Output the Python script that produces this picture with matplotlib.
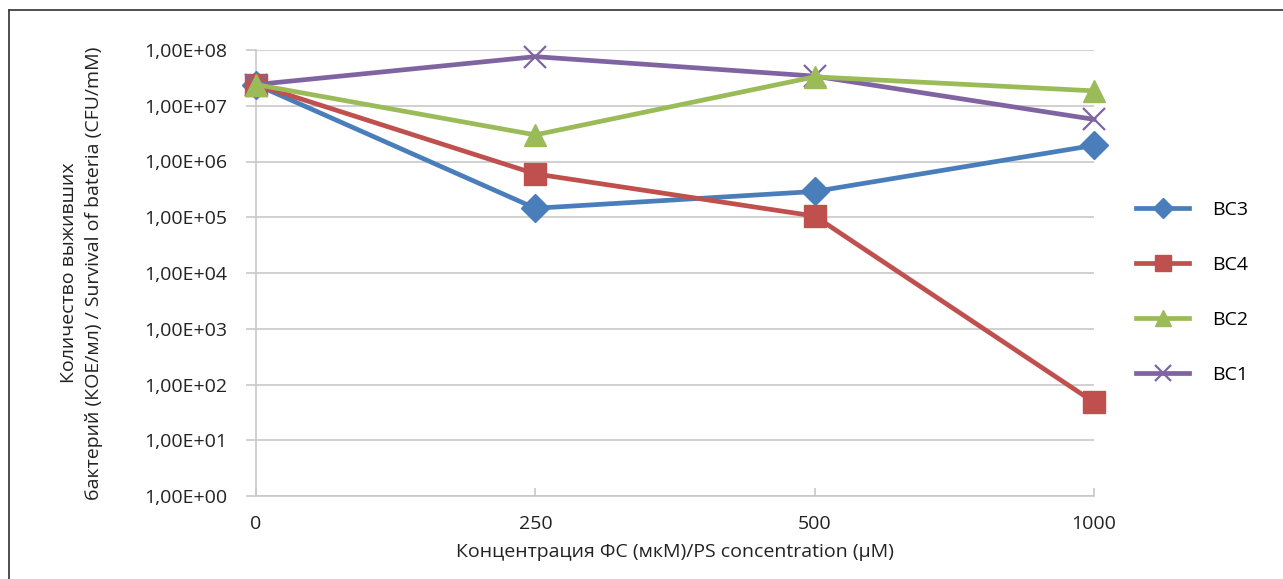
import numpy as np
import matplotlib
matplotlib.use("Agg")
import matplotlib.pyplot as plt
from matplotlib.lines import Line2D
from matplotlib.ticker import FuncFormatter, LogLocator, NullLocator

plt.rcParams['font.family'] = ['Open Sans', 'DejaVu Sans']

# data
concentrations = ["0", "250", "500", "1000"]
bc3 = [2.4e7, 1.45e5, 2.9e5, 1.95e6]
bc4 = [2.4e7, 6.0e5, 1.05e5, 48]
bc2 = [2.4e7, 3.0e6, 3.3e7, 1.85e7]
bc1 = [2.4e7, 7.6e7, 3.4e7, 5.7e6]

blue = "#4A7EBB"
red = "#C0504D"
green = "#9BBB59"
purple = "#8064A2"
grid_c = "#C8C8C8"
txt_c = "#222222"
fs = 14

fig = plt.figure(figsize=(12.83, 5.79), dpi=100)
ax = fig.add_axes([256/1283, 1-496/579, (1094-256)/1283, (496-50)/579])

x = np.arange(len(concentrations))

# draw order so the overlaps look like the original
h3, = ax.plot(x, bc3, color=blue, lw=3.4, marker="D", ms=14, label="BC3", clip_on=False, zorder=3)
h4, = ax.plot(x, bc4, color=red, lw=3.4, marker="s", ms=16, label="BC4", clip_on=False, zorder=4)
h1, = ax.plot(x, bc1, color=purple, lw=3.4, marker="x", ms=16, mew=1.6, label="BC1", clip_on=False, zorder=5)
h2, = ax.plot(x, bc2, color=green, lw=3.4, marker="^", ms=16, label="BC2", clip_on=False, zorder=6)

ax.set_yscale("log")
ax.set_ylim(1, 1e8)
ax.set_xlim(0, 3)
ax.yaxis.set_major_locator(LogLocator(base=10, numticks=12))
ax.yaxis.set_minor_locator(NullLocator())
ax.yaxis.set_major_formatter(FuncFormatter(lambda v, p: ("%.2E" % v).replace(".", ",")))
ax.set_xticks(x)
ax.set_xticklabels(concentrations)

ax.grid(axis="y", color=grid_c, lw=1.2)
for s in ["top", "right"]:
    ax.spines[s].set_visible(False)
ax.spines["left"].set_color(grid_c)
ax.spines["bottom"].set_color(grid_c)
ax.spines["left"].set_linewidth(1.2)
ax.spines["bottom"].set_linewidth(1.2)
ax.tick_params(axis="y", direction="out", length=7, width=1.2, color=grid_c,
               labelsize=fs, labelcolor=txt_c, pad=14)
ax.tick_params(axis="x", direction="in", length=6, width=1.2, color=grid_c,
               labelsize=fs, labelcolor=txt_c, pad=14)

ax.set_ylabel("Количество выживших\nбактерий (КОЕ/мл) / Survival of bateria (CFU/mM)",
              fontsize=fs, color=txt_c, labelpad=29, linespacing=1.5)
ax.set_xlabel("Концентрация ФС (мкМ)/PS concentration (μM)", fontsize=fs,
              color=txt_c, labelpad=7)

ax.legend(handles=[h3, h4, h2, h1], loc="center left", bbox_to_anchor=(1.039, 0.457),
          frameon=False, fontsize=fs, handlelength=2.7, labelspacing=1.9,
          handletextpad=1.2, borderpad=0, markerscale=0.75)

# outer frame (only top and left visible in the crop)
fig.add_artist(Line2D([9/1283, 9/1283], [0, 1-10/579], transform=fig.transFigure,
                      color="#404040", lw=1.3))
fig.add_artist(Line2D([9/1283, 1], [1-10/579, 1-10/579], transform=fig.transFigure,
                      color="#404040", lw=1.3))

fig.savefig("out.png", dpi=100)
